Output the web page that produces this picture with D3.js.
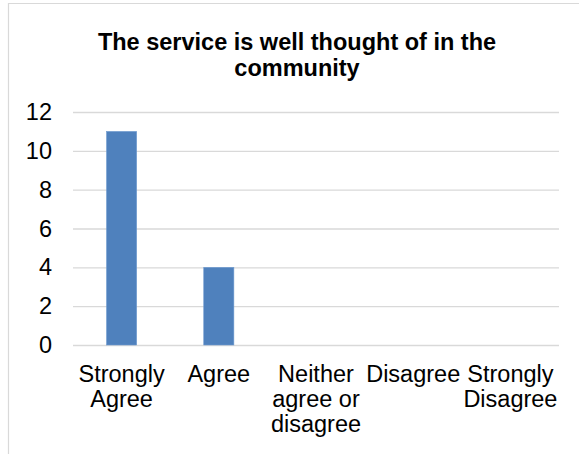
<!DOCTYPE html>
<html>
<head>
<meta charset="utf-8">
<script src="https://cdn.jsdelivr.net/npm/d3@7"></script>
<style>
  html, body { margin: 0; padding: 0; background: #fff; }
  svg { display: block; font-family: "Liberation Sans", Arial, sans-serif; }
</style>
</head>
<body>
<svg id="chart" width="579" height="454"></svg>
<script>
// Survey responses
const categories = ["Strongly Agree", "Agree", "Neither agree or disagree", "Disagree", "Strongly Disagree"];
const categoryLines = [["Strongly", "Agree"], ["Agree"], ["Neither", "agree or", "disagree"], ["Disagree"], ["Strongly", "Disagree"]];
const responses = [11, 4, 0, 0, 0];
const yTicks = [0, 2, 4, 6, 8, 10, 12];
const titleLines = ["The service is well thought of in the", "community"];

const svg = d3.select("#chart");
const W = 579, H = 454;
const plot = { left: 73, right: 559, top: 112, bottom: 345 };
const labelSize = 23.5;

// Chart frame (top and left edges visible)
svg.append("path")
  .attr("d", `M8.5,${H} V3.5 H${W}`)
  .attr("fill", "none")
  .attr("stroke", "#d9d9d9")
  .attr("stroke-width", 1.2);

const x = d3.scaleBand()
  .domain(categories)
  .range([plot.left, plot.right])
  .paddingInner(0.69)
  .paddingOuter(0.345);

const y = d3.scaleLinear()
  .domain([0, 12])
  .range([plot.bottom, plot.top]);

// Gridlines and value labels
const yAxis = d3.axisLeft(y)
  .tickValues(yTicks)
  .tickSize(-(plot.right - plot.left))
  .tickPadding(21)
  .tickFormat(d3.format("d"));

const gy = svg.append("g")
  .attr("transform", `translate(${plot.left},0)`)
  .call(yAxis);
gy.select(".domain").remove();
gy.selectAll(".tick line")
  .attr("stroke", "#d9d9d9")
  .attr("stroke-width", 1.3);
gy.selectAll(".tick text")
  .attr("fill", "#000")
  .attr("font-size", labelSize)
  .attr("font-family", "'Liberation Sans', Arial, sans-serif");

// Bars
svg.append("g")
  .selectAll("rect")
  .data(responses)
  .join("rect")
  .attr("x", (d, i) => x(categories[i]))
  .attr("y", d => y(d))
  .attr("width", x.bandwidth())
  .attr("height", d => y(0) - y(d))
  .attr("fill", "#4f81bd")
  .attr("stroke", "#6f9bd0")
  .attr("stroke-width", 0.6);

// Category labels
const gx = svg.append("g");
categories.forEach((c, i) => {
  const cx = x(c) + x.bandwidth() / 2;
  const t = gx.append("text")
    .attr("x", cx)
    .attr("y", 382)
    .attr("text-anchor", "middle")
    .attr("font-size", labelSize)
    .attr("fill", "#000");
  categoryLines[i].forEach((line, j) => {
    t.append("tspan")
      .attr("x", cx)
      .attr("dy", j === 0 ? 0 : 25)
      .text(line);
  });
});

// Title
const title = svg.append("text")
  .attr("x", 297)
  .attr("y", 49.5)
  .attr("text-anchor", "middle")
  .attr("font-size", 23.5)
  .attr("font-weight", "bold")
  .attr("fill", "#000");
titleLines.forEach((line, j) => {
  title.append("tspan")
    .attr("x", 297)
    .attr("dy", j === 0 ? 0 : 26.5)
    .text(line);
});
</script>
</body>
</html>
